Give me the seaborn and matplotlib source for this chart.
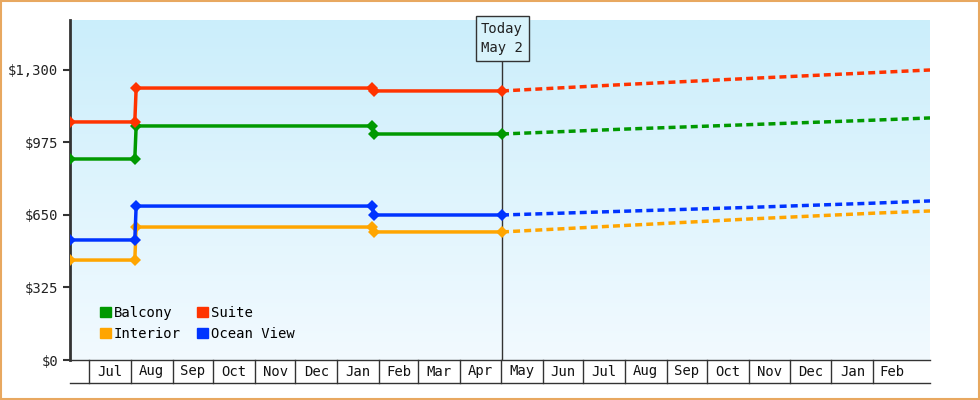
import matplotlib
matplotlib.use("Agg")
import matplotlib.pyplot as plt
import matplotlib.dates as mdates
import matplotlib.transforms as mtransforms
from matplotlib.patches import Patch
import numpy as np
import pandas as pd
import seaborn as sns

dates = ["2023-06-17", "2023-08-04", "2023-08-05", "2024-01-27", "2024-01-28", "2024-05-02"]
balcony = [901, 901, 1049, 1049, 1013, 1013]
suite = [1067, 1067, 1219, 1219, 1206, 1206]
ocean = [538, 538, 690, 690, 650, 650]
interior = [448, 448, 596, 596, 574, 574]

fc_dates = ["2024-05-02", "2024-08-01", "2024-11-01", "2025-02-01", "2025-03-15"]
fc_balcony = [1013, 1035, 1055, 1075, 1085]
fc_suite = [1206, 1235, 1262, 1288, 1300]
fc_ocean = [650, 667, 684, 703, 713]
fc_interior = [574, 603, 632, 658, 668]

month_labels = ["Jul", "Aug", "Sep", "Oct", "Nov", "Dec", "Jan", "Feb", "Mar", "Apr",
                "May", "Jun", "Jul", "Aug", "Sep", "Oct", "Nov", "Dec", "Jan", "Feb"]
yticks = [0, 325, 650, 975, 1300]

colors = {"Balcony": "#009900", "Suite": "#ff3300", "Interior": "#ffa500", "Ocean View": "#0033ff"}
series = {"Balcony": balcony, "Suite": suite, "Interior": interior, "Ocean View": ocean}
fseries = {"Balcony": fc_balcony, "Suite": fc_suite, "Interior": fc_interior, "Ocean View": fc_ocean}

font = "DejaVu Sans Mono"
plt.rcParams["font.family"] = font

fig = plt.figure(figsize=(9.8, 4.0), dpi=100)
fig.patches.append(plt.Rectangle((0.001, 0.002), 0.998, 0.996, transform=fig.transFigure,
                                 fill=False, edgecolor="#e8a860", linewidth=1.5))
ax = fig.add_axes([70/980, 40/400, 860/980, 340/400])

start = pd.Timestamp("2023-06-17"); end = pd.Timestamp("2025-03-15")
ax.set_xlim(start, end)
ax.set_ylim(0, 1524)

grad = np.linspace(0, 1, 256).reshape(-1, 1)
from matplotlib.colors import LinearSegmentedColormap
cmap = LinearSegmentedColormap.from_list("bg", ["#f2faff", "#cbeefb"])
ax.imshow(grad, aspect="auto", cmap=cmap, origin="lower",
          extent=[mdates.date2num(start), mdates.date2num(end), 0, 1524], zorder=0)

rows = []
for name, vals in series.items():
    for d, v in zip(dates, vals):
        rows.append({"date": pd.Timestamp(d), "price": v, "cabin": name})
df = pd.DataFrame(rows)
sns.lineplot(data=df, x="date", y="price", hue="cabin", palette=colors, marker="D",
             markersize=6, markeredgewidth=0, linewidth=2.5, ax=ax, legend=False, zorder=3)
frows = []
for name, vals in fseries.items():
    for d, v in zip(fc_dates, vals):
        frows.append({"date": pd.Timestamp(d), "price": v, "cabin": name})
fdf = pd.DataFrame(frows)
for name in colors:
    sub = fdf[fdf.cabin == name]
    ax.plot(sub.date, sub.price, color=colors[name], linestyle=(0, (2, 1.2)), linewidth=2.5, zorder=3)

today = pd.Timestamp("2024-05-02")
ax.axvline(today, ymin=0, ymax=0.88, color="#333333", linewidth=1, zorder=2)
ax.text(today, 1440, "Today\nMay 2", ha="center", va="center", fontsize=10, color="#222222",
        linespacing=1.5,
        bbox=dict(boxstyle="square,pad=0.4", facecolor="#d8f3fb", edgecolor="#333333", linewidth=1))

ax.set_yticks(yticks)
ax.set_yticklabels([f"${v:,}" for v in yticks], fontsize=10, color="#222222")
ax.tick_params(axis="y", length=5, width=1.5, color="#333333")
ax.set_xticks([])
ax.set_xlabel(""); ax.set_ylabel("")
for s in ["top", "right"]:
    ax.spines[s].set_visible(False)
ax.spines["left"].set_linewidth(2); ax.spines["left"].set_color("#333333")
ax.spines["bottom"].set_linewidth(1); ax.spines["bottom"].set_color("#333333")

trans = mtransforms.blended_transform_factory(ax.transData, ax.transAxes)
ms = pd.date_range("2023-07-01", periods=len(month_labels) + 1, freq="MS")
h = -23/340
for m in ms[:-1]:
    ax.plot([m, m], [0, h], transform=trans, color="#333333", lw=1, clip_on=False)
for i, lab in enumerate(month_labels):
    mid = ms[i] + (ms[i+1] - ms[i]) / 2
    ax.text(mid, h/2, lab, transform=trans, ha="center", va="center", fontsize=10, color="#111111", clip_on=False)
ax.plot([start, end], [h, h], transform=trans, color="#333333", lw=1, clip_on=False)

handles = [Patch(color=colors[n], label=n) for n in ["Balcony", "Interior", "Suite", "Ocean View"]]
ax.legend(handles=handles, ncol=2, loc="lower left", bbox_to_anchor=(0.02, 0.02), frameon=False,
          fontsize=10, handlelength=0.8, handleheight=0.8, handletextpad=0.2, columnspacing=1.2,
          labelspacing=0.5)

fig.savefig("out.png", dpi=100)
